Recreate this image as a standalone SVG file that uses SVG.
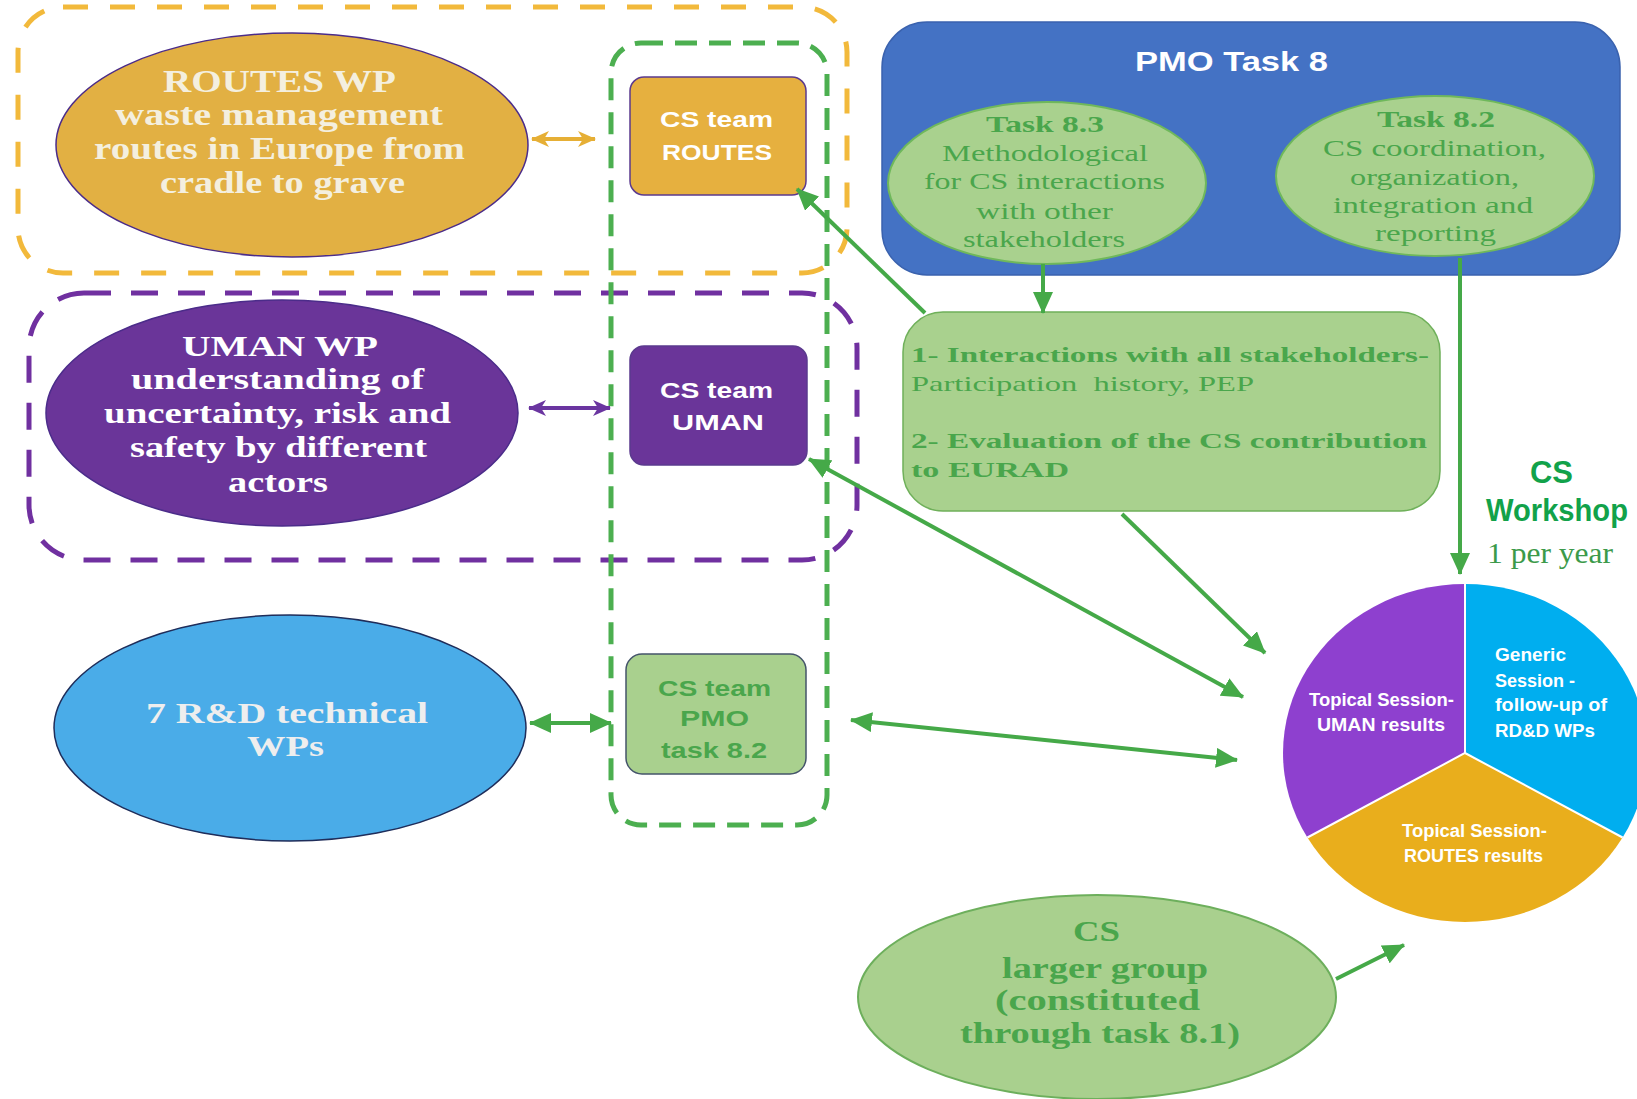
<svg xmlns="http://www.w3.org/2000/svg" width="1637" height="1099" viewBox="0 0 1637 1099">
<style>
.serif{font-family:"Liberation Serif","Times New Roman",serif}
.sans{font-family:"Liberation Sans",Arial,sans-serif;font-weight:bold}
.b{font-weight:bold}
.gt{fill:#4AA64C}
.dash{fill:none;stroke-width:5}
.gline{stroke:#45A948;stroke-width:4;fill:none}
</style>
<defs>
<marker id="ga" markerUnits="userSpaceOnUse" viewBox="0 0 22 20" markerWidth="22" markerHeight="20" refX="21" refY="10" orient="auto-start-reverse">
<path d="M0,0 L22,10 L0,20 Z" fill="#45A948"/>
</marker>
<marker id="ya" markerUnits="userSpaceOnUse" viewBox="0 0 18 16" markerWidth="18" markerHeight="16" refX="17" refY="8" orient="auto-start-reverse">
<path d="M0,0 L18,8 L0,16 L5,8 Z" fill="#E6AF35"/>
</marker>
<marker id="pa" markerUnits="userSpaceOnUse" viewBox="0 0 18 16" markerWidth="18" markerHeight="16" refX="17" refY="8" orient="auto-start-reverse">
<path d="M0,0 L18,8 L0,16 L5,8 Z" fill="#6A35A0"/>
</marker>
</defs>
<rect width="1637" height="1099" fill="#FFFFFF"/>

<g id="containers">
<rect id="routes-frame" x="18" y="7" width="829" height="266" rx="45" class="dash" stroke="#F2B93B" stroke-dasharray="25 22"/>
<rect id="uman-frame" x="29" y="293" width="828" height="267" rx="55" class="dash" stroke="#7030A0" stroke-dasharray="27 20"/>
<rect id="csteam-frame" x="611" y="43" width="216" height="782" rx="30" class="dash" stroke="#4CAF50" stroke-dasharray="22 12"/>
</g>

<g id="routes-wp">
<ellipse cx="292" cy="145" rx="236" ry="112" fill="#E2B043" stroke="#4B2C8A" stroke-width="1.5"/>
<g class="serif b" fill="#F4EFDF" font-size="31">
<text x="163" y="92" textLength="233" lengthAdjust="spacingAndGlyphs">ROUTES WP</text>
<text x="115" y="125" textLength="328" lengthAdjust="spacingAndGlyphs">waste management</text>
<text x="94" y="159" textLength="371" lengthAdjust="spacingAndGlyphs">routes in Europe from</text>
<text x="160" y="193" textLength="245" lengthAdjust="spacingAndGlyphs">cradle to grave</text>
</g>
</g>

<g id="uman-wp">
<ellipse cx="282" cy="413" rx="236" ry="113" fill="#6A3599" stroke="#4B2C8A" stroke-width="1.5"/>
<g class="serif b" fill="#FFFFFF" font-size="30">
<text x="182" y="356" textLength="196" lengthAdjust="spacingAndGlyphs">UMAN WP</text>
<text x="131" y="389" textLength="293" lengthAdjust="spacingAndGlyphs">understanding of</text>
<text x="104" y="423" textLength="347" lengthAdjust="spacingAndGlyphs">uncertainty, risk and</text>
<text x="130" y="457" textLength="297" lengthAdjust="spacingAndGlyphs">safety by different</text>
<text x="228" y="492" textLength="100" lengthAdjust="spacingAndGlyphs">actors</text>
</g>
</g>

<g id="rd-wps">
<ellipse cx="290" cy="728" rx="236" ry="113" fill="#4AACE8" stroke="#1F2D5A" stroke-width="1.5"/>
<g class="serif b" fill="#EEEEEE" font-size="30">
<text x="146" y="723" textLength="282" lengthAdjust="spacingAndGlyphs">7 R&amp;D technical</text>
<text x="247" y="756" textLength="77" lengthAdjust="spacingAndGlyphs">WPs</text>
</g>
</g>

<g id="cs-team-routes">
<rect x="630" y="77" width="176" height="118" rx="14" fill="#E6B03F" stroke="#5B3A8E" stroke-width="1.5"/>
<g class="sans" fill="#FFFFFF" font-size="22">
<text x="660" y="127" textLength="113" lengthAdjust="spacingAndGlyphs">CS team</text>
<text x="662" y="160" textLength="110" lengthAdjust="spacingAndGlyphs">ROUTES</text>
</g>
</g>

<g id="cs-team-uman">
<rect x="630" y="346" width="177" height="119" rx="14" fill="#6A3599" stroke="#5B3A8E" stroke-width="1.5"/>
<g class="sans" fill="#FFFFFF" font-size="22">
<text x="660" y="398" textLength="113" lengthAdjust="spacingAndGlyphs">CS team</text>
<text x="672" y="430" textLength="92" lengthAdjust="spacingAndGlyphs">UMAN</text>
</g>
</g>

<g id="cs-team-pmo">
<rect x="626" y="654" width="180" height="120" rx="16" fill="#A9D08E" stroke="#44546A" stroke-width="1.5"/>
<g class="sans gt" font-size="22">
<text x="658" y="696" textLength="113" lengthAdjust="spacingAndGlyphs">CS team</text>
<text x="680" y="726" textLength="69" lengthAdjust="spacingAndGlyphs">PMO</text>
<text x="661" y="758" textLength="106" lengthAdjust="spacingAndGlyphs">task 8.2</text>
</g>
</g>

<g id="pmo-task8">
<rect x="882" y="22" width="738" height="253" rx="45" fill="#4472C4" stroke="#3A62AE" stroke-width="1.5"/>
<text class="sans" x="1135" y="71" font-size="27" fill="#FFFFFF" textLength="193" lengthAdjust="spacingAndGlyphs">PMO Task 8</text>
</g>

<g id="task-8-3">
<ellipse cx="1047" cy="183" rx="159" ry="81" fill="#A9D18E" stroke="#6FB85B" stroke-width="2"/>
<g class="serif gt" font-size="23">
<text class="b" x="986" y="132" textLength="118" lengthAdjust="spacingAndGlyphs">Task 8.3</text>
<text x="942" y="161" textLength="206" lengthAdjust="spacingAndGlyphs">Methodological</text>
<text x="924" y="189" textLength="241" lengthAdjust="spacingAndGlyphs">for CS interactions</text>
<text x="976" y="219" textLength="137" lengthAdjust="spacingAndGlyphs">with other</text>
<text x="963" y="247" textLength="162" lengthAdjust="spacingAndGlyphs">stakeholders</text>
</g>
</g>

<g id="task-8-2">
<ellipse cx="1435" cy="176" rx="159" ry="80" fill="#A9D18E" stroke="#6FB85B" stroke-width="2"/>
<g class="serif gt" font-size="23">
<text class="b" x="1377" y="127" textLength="118" lengthAdjust="spacingAndGlyphs">Task 8.2</text>
<text x="1323" y="156" textLength="223" lengthAdjust="spacingAndGlyphs">CS coordination,</text>
<text x="1350" y="185" textLength="169" lengthAdjust="spacingAndGlyphs">organization,</text>
<text x="1333" y="213" textLength="200" lengthAdjust="spacingAndGlyphs">integration and</text>
<text x="1375" y="241" textLength="121" lengthAdjust="spacingAndGlyphs">reporting</text>
</g>
</g>

<g id="interactions">
<rect x="903" y="312" width="537" height="199" rx="40" fill="#A9D18E" stroke="#6FB05A" stroke-width="1.5"/>
<g class="serif gt" font-size="22">
<text class="b" x="911" y="362" textLength="518" lengthAdjust="spacingAndGlyphs">1- Interactions with all stakeholders-</text>
<text x="911" y="391" xml:space="preserve" textLength="343" lengthAdjust="spacingAndGlyphs">Participation  history, PEP</text>
<text class="b" x="911" y="448" textLength="516" lengthAdjust="spacingAndGlyphs">2- Evaluation of the CS contribution</text>
<text class="b" x="911" y="477" textLength="158" lengthAdjust="spacingAndGlyphs">to EURAD</text>
</g>
</g>

<g id="cs-workshop-label">
<text class="sans" x="1530" y="483" font-size="32" fill="#12A24A" textLength="43" lengthAdjust="spacingAndGlyphs">CS</text>
<text class="sans" x="1486" y="521" font-size="31" fill="#12A24A" textLength="142" lengthAdjust="spacingAndGlyphs">Workshop</text>
<text class="serif" x="1487" y="563" font-size="30" fill="#3C9A4A" textLength="126" lengthAdjust="spacingAndGlyphs">1 per year</text>
</g>

<g id="cs-workshop-pie">
<path d="M1465,753 L1465,584 A182,169 0 0 0 1307.4,837.5 Z" fill="#8E40CF"/>
<path d="M1465,753 L1465,584 A182,169 0 0 1 1622.6,837.5 Z" fill="#00AEEF"/>
<path d="M1465,753 L1622.6,837.5 A182,169 0 0 1 1307.4,837.5 Z" fill="#E9AE1C"/>
<path d="M1465,584 L1465,753 L1307.4,837.5 M1465,753 L1622.6,837.5" stroke="#FFFFFF" stroke-width="2" fill="none"/>
<g class="sans" fill="#FFFFFF" font-size="18">
<text x="1309" y="706" textLength="145" lengthAdjust="spacingAndGlyphs">Topical Session-</text>
<text x="1317" y="731" textLength="128" lengthAdjust="spacingAndGlyphs">UMAN results</text>
<text x="1495" y="661" textLength="71" lengthAdjust="spacingAndGlyphs">Generic</text>
<text x="1495" y="687" textLength="80" lengthAdjust="spacingAndGlyphs">Session -</text>
<text x="1495" y="711" textLength="112" lengthAdjust="spacingAndGlyphs">follow-up of</text>
<text x="1495" y="737" textLength="100" lengthAdjust="spacingAndGlyphs">RD&amp;D WPs</text>
<text x="1402" y="837" textLength="145" lengthAdjust="spacingAndGlyphs">Topical Session-</text>
<text x="1404" y="862" textLength="139" lengthAdjust="spacingAndGlyphs">ROUTES results</text>
</g>
</g>

<g id="cs-larger-group">
<ellipse cx="1097" cy="997" rx="239" ry="102" fill="#A9D08E" stroke="#6DAF5C" stroke-width="2"/>
<g class="serif b gt" font-size="30">
<text x="1073" y="941" textLength="47" lengthAdjust="spacingAndGlyphs">CS</text>
<text x="1002" y="978" textLength="206" lengthAdjust="spacingAndGlyphs">larger group</text>
<text x="995" y="1010" textLength="205" lengthAdjust="spacingAndGlyphs">(constituted</text>
<text x="960" y="1043" textLength="280" lengthAdjust="spacingAndGlyphs">through task 8.1)</text>
</g>
</g>

<g id="connectors">
<line x1="532" y1="139" x2="595" y2="139" stroke="#E6AF35" stroke-width="4" marker-start="url(#ya)" marker-end="url(#ya)"/>
<line x1="529" y1="408" x2="610" y2="408" stroke="#6A35A0" stroke-width="4" marker-start="url(#pa)" marker-end="url(#pa)"/>
<line x1="530" y1="723" x2="611" y2="723" class="gline" marker-start="url(#ga)" marker-end="url(#ga)"/>
<line x1="925" y1="313" x2="797" y2="189" class="gline" marker-end="url(#ga)"/>
<line x1="809" y1="459" x2="1243" y2="697" class="gline" marker-start="url(#ga)" marker-end="url(#ga)"/>
<line x1="1122" y1="514" x2="1265" y2="653" class="gline" marker-end="url(#ga)"/>
<line x1="851" y1="720" x2="1237" y2="760" class="gline" marker-start="url(#ga)" marker-end="url(#ga)"/>
<line x1="1043" y1="264" x2="1043" y2="313" class="gline" marker-end="url(#ga)"/>
<line x1="1460" y1="258" x2="1460" y2="574" class="gline" marker-end="url(#ga)"/>
<line x1="1336" y1="979" x2="1404" y2="945" class="gline" marker-end="url(#ga)"/>
</g>
</svg>
